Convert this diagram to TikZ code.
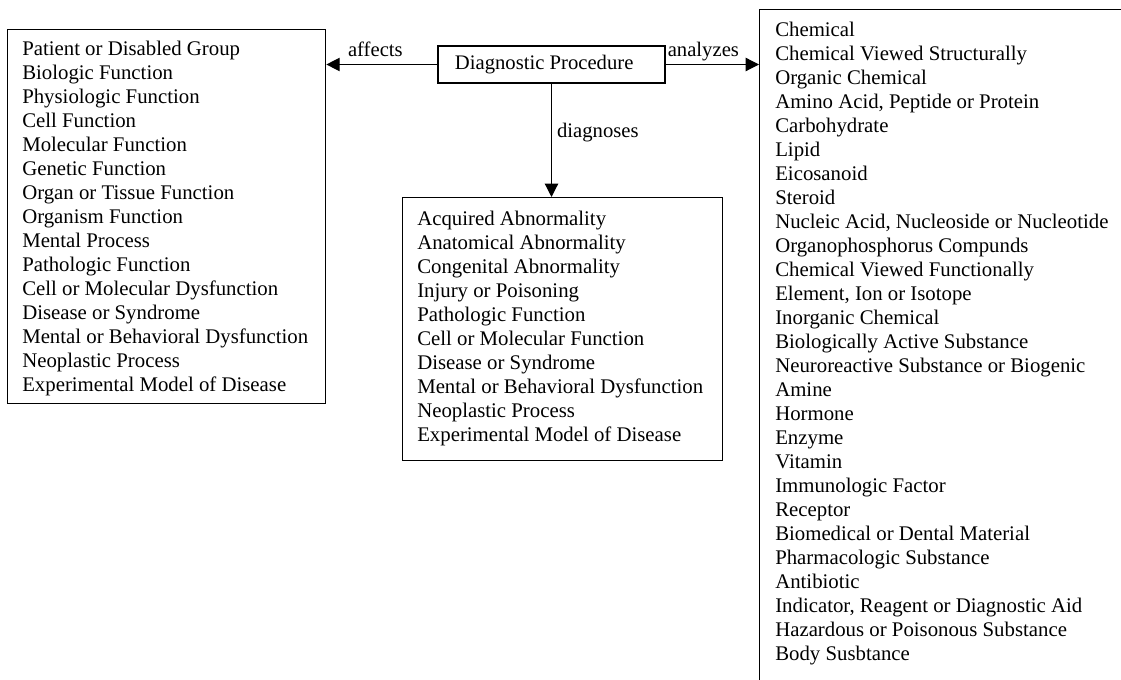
\documentclass[tikz,border=0pt]{standalone}
\usepackage{fontspec}
\setmainfont{Liberation Serif}
\usetikzlibrary{arrows.meta}
\tikzset{
  boxframe/.style={draw, line width=1pt, inner sep=0pt, anchor=north west},
  listtext/.style={anchor=base west, inner sep=0pt},
  rel/.style={draw, line width=0.9pt, -{Triangle[length=10pt,width=10pt]}},
  rellabel/.style={font=\fontsize{15.5}{18}\selectfont, inner sep=0pt},
}
\newcommand{\itemlist}[1]{\parbox[t]{300pt}{\fontsize{15.6}{18}\selectfont\raggedright #1}}
\begin{document}
\begin{tikzpicture}[x=0.75pt,y=-0.75pt]
\useasboundingbox[fill=white] (0,0) rectangle (1121,680);
% left box
\node[boxframe, minimum width=238.5pt, minimum height=280.5pt] (L) at (7,29) {};
\node[listtext] (Ltext) at (22,56) {\itemlist{Patient or Disabled Group\\
Biologic Function\\
Physiologic Function\\
Cell Function\\
Molecular Function\\
Genetic Function\\
Organ or Tissue Function\\
Organism Function\\
Mental Process\\
Pathologic Function\\
Cell or Molecular Dysfunction\\
Disease or Syndrome\\
Mental or Behavioral Dysfunction\\
Neoplastic Process\\
Experimental Model of Disease}};
% middle box
\node[boxframe, minimum width=240pt, minimum height=197.25pt] (M) at (402,197) {};
\node[listtext] (Mtext) at (417,226) {\itemlist{Acquired Abnormality\\
Anatomical Abnormality\\
Congenital Abnormality\\
Injury or Poisoning\\
Pathologic Function\\
Cell or Molecular Function\\
Disease or Syndrome\\
Mental or Behavioral Dysfunction\\
Neoplastic Process\\
Experimental Model of Disease}};
% right box
\node[boxframe, minimum width=280pt, minimum height=520pt] (R) at (759,9) {};
\node[listtext] (Rtext) at (775,37) {\itemlist{Chemical\\
Chemical Viewed Structurally\\
Organic Chemical\\
Amino Acid, Peptide or Protein\\
Carbohydrate\\
Lipid\\
Eicosanoid\\
Steroid\\
Nucleic Acid, Nucleoside or Nucleotide\\
Organophosphorus Compunds\\
Chemical Viewed Functionally\\
Element, Ion or Isotope\\
Inorganic Chemical\\
Biologically Active Substance\\
Neuroreactive Substance or Biogenic\\
Amine\\
Hormone\\
Enzyme\\
Vitamin\\
Immunologic Factor\\
Receptor\\
Biomedical or Dental Material\\
Pharmacologic Substance\\
Antibiotic\\
Indicator, Reagent or Diagnostic Aid\\
Hazardous or Poisonous Substance\\
Body Susbtance}};
% central procedure
\node[boxframe, anchor=center, minimum width=170.25pt, minimum height=27.75pt,
      font=\fontsize{15.5}{18}\selectfont] (DP) at (551.5,64.5) {\hspace*{-11pt}Diagnostic Procedure};
% relations
\draw[rel] (DP.west) -- (DP.west -| L.east)
  node[rellabel, pos=0.558, anchor=base, yshift=6pt] {affects};
\draw[rel] (DP.east) -- (DP.east -| R.west)
  node[rellabel, pos=0.404, anchor=base, yshift=6pt] {analyzes};
\draw[rel] (DP.south) -- (DP.south |- M.north)
  node[rellabel, pos=0.474, anchor=base west, xshift=3.75pt] {diagnoses};
\end{tikzpicture}
\end{document}
